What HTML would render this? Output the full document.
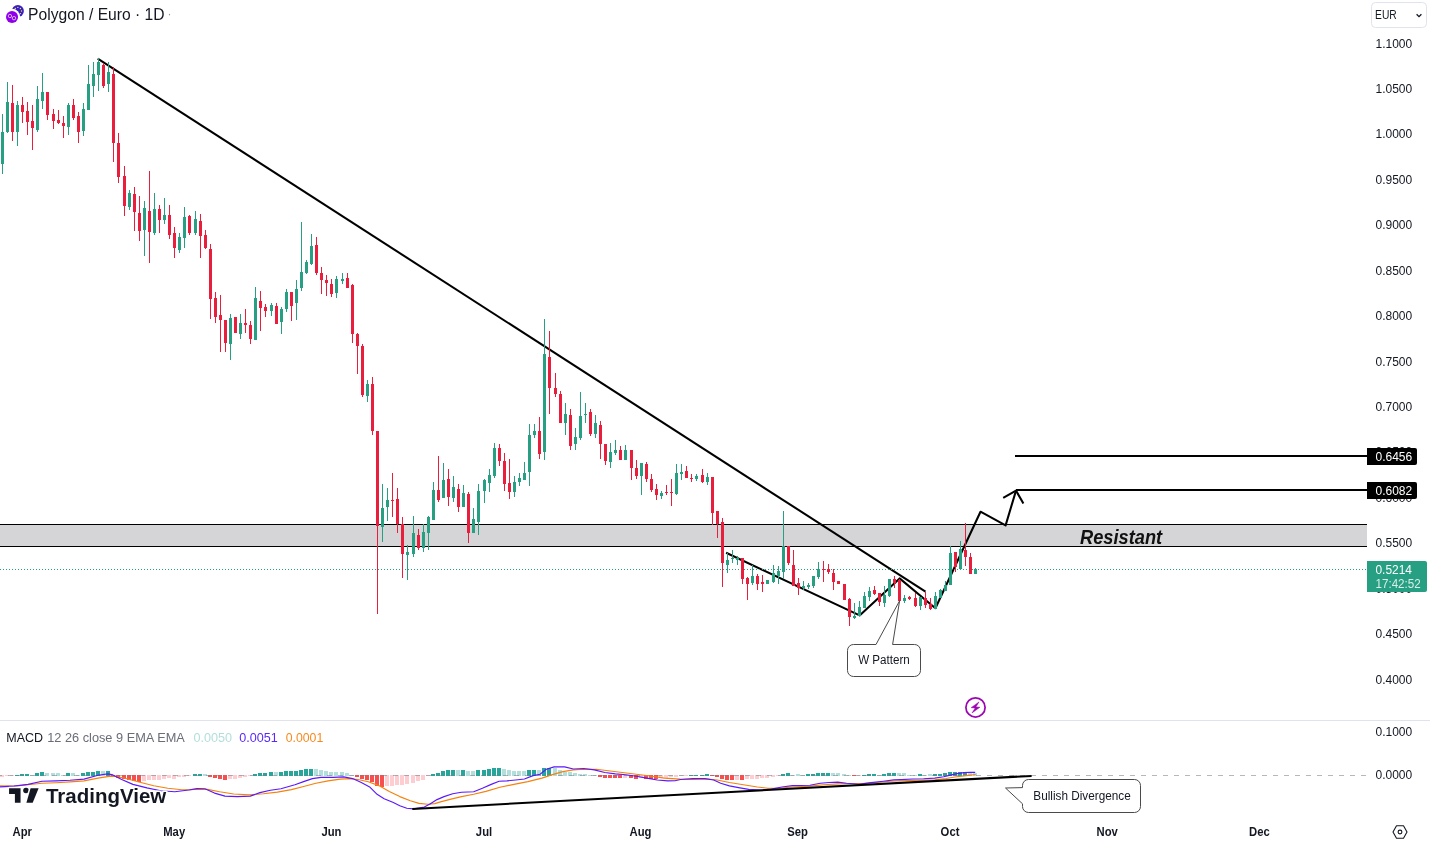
<!DOCTYPE html>
<html lang="en"><head><meta charset="utf-8"><title>Polygon / Euro chart</title>
<style>
html,body{margin:0;padding:0;background:#fff;}
body{width:1430px;height:843px;overflow:hidden;font-family:"Liberation Sans",Arial,sans-serif;}
svg{display:block;will-change:transform;}
svg text{font-family:"Liberation Sans",Arial,sans-serif;}
.ax{font-size:12px;fill:#131722;}
.tm{font-size:12px;font-weight:bold;fill:#131722;text-anchor:middle;}
</style></head><body>
<svg width="1430" height="843" viewBox="0 0 1430 843">
<rect width="1430" height="843" fill="#ffffff"/>
<g class="ax">
<text x="1375.5" y="47.6">1.1000</text>
<text x="1375.5" y="93.0">1.0500</text>
<text x="1375.5" y="138.4">1.0000</text>
<text x="1375.5" y="183.9">0.9500</text>
<text x="1375.5" y="229.3">0.9000</text>
<text x="1375.5" y="274.7">0.8500</text>
<text x="1375.5" y="320.1">0.8000</text>
<text x="1375.5" y="365.5">0.7500</text>
<text x="1375.5" y="411.0">0.7000</text>
<text x="1375.5" y="456.4">0.6500</text>
<text x="1375.5" y="501.8">0.6000</text>
<text x="1375.5" y="547.2">0.5500</text>
<text x="1375.5" y="592.6">0.5000</text>
<text x="1375.5" y="638.1">0.4500</text>
<text x="1375.5" y="683.5">0.4000</text>
</g>
<g shape-rendering="crispEdges">
<rect x="0" y="524" width="1367" height="23" fill="#d5d5d7"/>
<rect x="0" y="524" width="1367" height="1" fill="#000"/>
<rect x="0" y="546" width="1367" height="1" fill="#000"/>
</g>
<text x="1080" y="543.8" font-size="19.4" font-weight="bold" font-style="italic" fill="#111" textLength="82.2" lengthAdjust="spacingAndGlyphs">Resistant</text>
<g fill="none" stroke="#000" stroke-width="2.05" stroke-linecap="butt" stroke-linejoin="round">
<line x1="97.7" y1="58.6" x2="925.5" y2="591.7"/>
<polyline points="726.1,552.8 859.6,615.4 899.6,578.4 935.4,608.2 980.5,511.7 1005.6,525.4 1016,490.6"/>
<polyline points="1003.2,497.8 1016,490.6 1023.4,503.6"/>
</g>
<g shape-rendering="crispEdges" fill="#000">
<rect x="1015" y="455" width="352" height="2"/>
<rect x="1016" y="489" width="351" height="2"/>
</g>
<line x1="0" y1="569.5" x2="1367" y2="569.5" stroke="#279f82" stroke-width="1" stroke-dasharray="1 2" shape-rendering="crispEdges"/>
<g shape-rendering="crispEdges">
<rect x="2" y="114" width="1" height="60" fill="#279f82"/>
<rect x="1" y="132" width="3" height="32" fill="#279f82"/>
<rect x="7" y="82" width="1" height="51" fill="#279f82"/>
<rect x="6" y="102" width="3" height="30" fill="#279f82"/>
<rect x="12" y="85" width="1" height="56" fill="#e91e3c"/>
<rect x="11" y="103" width="3" height="29" fill="#e91e3c"/>
<rect x="17" y="101" width="1" height="45" fill="#279f82"/>
<rect x="16" y="105" width="3" height="27" fill="#279f82"/>
<rect x="22" y="97" width="1" height="26" fill="#e91e3c"/>
<rect x="21" y="105" width="3" height="7" fill="#e91e3c"/>
<rect x="27" y="102" width="1" height="33" fill="#e91e3c"/>
<rect x="26" y="111" width="3" height="11" fill="#e91e3c"/>
<rect x="32" y="105" width="1" height="45" fill="#e91e3c"/>
<rect x="31" y="121" width="3" height="7" fill="#e91e3c"/>
<rect x="37" y="86" width="1" height="46" fill="#279f82"/>
<rect x="36" y="99" width="3" height="31" fill="#279f82"/>
<rect x="42" y="73" width="1" height="36" fill="#279f82"/>
<rect x="41" y="92" width="3" height="9" fill="#279f82"/>
<rect x="47" y="92" width="1" height="28" fill="#e91e3c"/>
<rect x="46" y="92" width="3" height="23" fill="#e91e3c"/>
<rect x="53" y="109" width="1" height="20" fill="#e91e3c"/>
<rect x="52" y="114" width="3" height="7" fill="#e91e3c"/>
<rect x="58" y="110" width="1" height="14" fill="#e91e3c"/>
<rect x="57" y="120" width="3" height="3" fill="#e91e3c"/>
<rect x="63" y="116" width="1" height="22" fill="#e91e3c"/>
<rect x="62" y="123" width="3" height="3" fill="#e91e3c"/>
<rect x="68" y="103" width="1" height="32" fill="#279f82"/>
<rect x="67" y="105" width="3" height="22" fill="#279f82"/>
<rect x="73" y="99" width="1" height="21" fill="#e91e3c"/>
<rect x="72" y="105" width="3" height="13" fill="#e91e3c"/>
<rect x="78" y="112" width="1" height="31" fill="#e91e3c"/>
<rect x="77" y="116" width="3" height="16" fill="#e91e3c"/>
<rect x="83" y="103" width="1" height="33" fill="#279f82"/>
<rect x="82" y="109" width="3" height="22" fill="#279f82"/>
<rect x="88" y="65" width="1" height="45" fill="#279f82"/>
<rect x="87" y="84" width="3" height="26" fill="#279f82"/>
<rect x="93" y="62" width="1" height="35" fill="#279f82"/>
<rect x="92" y="74" width="3" height="12" fill="#279f82"/>
<rect x="98" y="58" width="1" height="33" fill="#279f82"/>
<rect x="97" y="62" width="3" height="13" fill="#279f82"/>
<rect x="103" y="63" width="1" height="25" fill="#e91e3c"/>
<rect x="102" y="65" width="3" height="21" fill="#e91e3c"/>
<rect x="108" y="62" width="1" height="30" fill="#279f82"/>
<rect x="107" y="72" width="3" height="12" fill="#279f82"/>
<rect x="113" y="67" width="1" height="95" fill="#e91e3c"/>
<rect x="112" y="74" width="3" height="69" fill="#e91e3c"/>
<rect x="118" y="133" width="1" height="50" fill="#e91e3c"/>
<rect x="117" y="143" width="3" height="34" fill="#e91e3c"/>
<rect x="124" y="166" width="1" height="50" fill="#e91e3c"/>
<rect x="123" y="176" width="3" height="30" fill="#e91e3c"/>
<rect x="129" y="190" width="1" height="20" fill="#279f82"/>
<rect x="128" y="193" width="3" height="14" fill="#279f82"/>
<rect x="134" y="187" width="1" height="44" fill="#e91e3c"/>
<rect x="133" y="194" width="3" height="18" fill="#e91e3c"/>
<rect x="139" y="196" width="1" height="45" fill="#e91e3c"/>
<rect x="138" y="213" width="3" height="18" fill="#e91e3c"/>
<rect x="144" y="201" width="1" height="55" fill="#279f82"/>
<rect x="143" y="208" width="3" height="22" fill="#279f82"/>
<rect x="149" y="171" width="1" height="92" fill="#e91e3c"/>
<rect x="148" y="211" width="3" height="21" fill="#e91e3c"/>
<rect x="154" y="193" width="1" height="42" fill="#279f82"/>
<rect x="153" y="209" width="3" height="24" fill="#279f82"/>
<rect x="159" y="205" width="1" height="28" fill="#e91e3c"/>
<rect x="158" y="209" width="3" height="11" fill="#e91e3c"/>
<rect x="164" y="198" width="1" height="26" fill="#279f82"/>
<rect x="163" y="215" width="3" height="5" fill="#279f82"/>
<rect x="169" y="205" width="1" height="34" fill="#e91e3c"/>
<rect x="168" y="215" width="3" height="20" fill="#e91e3c"/>
<rect x="174" y="227" width="1" height="31" fill="#e91e3c"/>
<rect x="173" y="233" width="3" height="15" fill="#e91e3c"/>
<rect x="179" y="233" width="1" height="20" fill="#279f82"/>
<rect x="178" y="237" width="3" height="13" fill="#279f82"/>
<rect x="184" y="207" width="1" height="41" fill="#279f82"/>
<rect x="183" y="217" width="3" height="21" fill="#279f82"/>
<rect x="189" y="215" width="1" height="20" fill="#e91e3c"/>
<rect x="188" y="216" width="3" height="17" fill="#e91e3c"/>
<rect x="195" y="211" width="1" height="24" fill="#279f82"/>
<rect x="194" y="219" width="3" height="14" fill="#279f82"/>
<rect x="200" y="214" width="1" height="44" fill="#e91e3c"/>
<rect x="199" y="221" width="3" height="15" fill="#e91e3c"/>
<rect x="205" y="230" width="1" height="19" fill="#e91e3c"/>
<rect x="204" y="235" width="3" height="13" fill="#e91e3c"/>
<rect x="210" y="244" width="1" height="75" fill="#e91e3c"/>
<rect x="209" y="249" width="3" height="50" fill="#e91e3c"/>
<rect x="215" y="292" width="1" height="31" fill="#e91e3c"/>
<rect x="214" y="298" width="3" height="19" fill="#e91e3c"/>
<rect x="220" y="295" width="1" height="57" fill="#e91e3c"/>
<rect x="219" y="315" width="3" height="5" fill="#e91e3c"/>
<rect x="225" y="320" width="1" height="32" fill="#e91e3c"/>
<rect x="224" y="320" width="3" height="23" fill="#e91e3c"/>
<rect x="230" y="314" width="1" height="46" fill="#279f82"/>
<rect x="229" y="318" width="3" height="26" fill="#279f82"/>
<rect x="235" y="317" width="1" height="16" fill="#e91e3c"/>
<rect x="234" y="317" width="3" height="16" fill="#e91e3c"/>
<rect x="240" y="314" width="1" height="25" fill="#279f82"/>
<rect x="239" y="323" width="3" height="11" fill="#279f82"/>
<rect x="245" y="309" width="1" height="24" fill="#e91e3c"/>
<rect x="244" y="323" width="3" height="2" fill="#e91e3c"/>
<rect x="250" y="321" width="1" height="23" fill="#e91e3c"/>
<rect x="249" y="325" width="3" height="14" fill="#e91e3c"/>
<rect x="255" y="287" width="1" height="53" fill="#279f82"/>
<rect x="254" y="298" width="3" height="42" fill="#279f82"/>
<rect x="260" y="291" width="1" height="40" fill="#e91e3c"/>
<rect x="259" y="301" width="3" height="7" fill="#e91e3c"/>
<rect x="265" y="304" width="1" height="13" fill="#e91e3c"/>
<rect x="264" y="307" width="3" height="4" fill="#e91e3c"/>
<rect x="271" y="303" width="1" height="13" fill="#279f82"/>
<rect x="270" y="305" width="3" height="6" fill="#279f82"/>
<rect x="276" y="303" width="1" height="21" fill="#e91e3c"/>
<rect x="275" y="306" width="3" height="18" fill="#e91e3c"/>
<rect x="281" y="307" width="1" height="27" fill="#279f82"/>
<rect x="280" y="309" width="3" height="13" fill="#279f82"/>
<rect x="286" y="289" width="1" height="23" fill="#279f82"/>
<rect x="285" y="292" width="3" height="17" fill="#279f82"/>
<rect x="291" y="292" width="1" height="29" fill="#e91e3c"/>
<rect x="290" y="292" width="3" height="14" fill="#e91e3c"/>
<rect x="296" y="280" width="1" height="40" fill="#279f82"/>
<rect x="295" y="289" width="3" height="14" fill="#279f82"/>
<rect x="301" y="222" width="1" height="69" fill="#279f82"/>
<rect x="300" y="272" width="3" height="16" fill="#279f82"/>
<rect x="306" y="260" width="1" height="14" fill="#279f82"/>
<rect x="305" y="262" width="3" height="11" fill="#279f82"/>
<rect x="311" y="234" width="1" height="31" fill="#279f82"/>
<rect x="310" y="246" width="3" height="18" fill="#279f82"/>
<rect x="316" y="237" width="1" height="38" fill="#e91e3c"/>
<rect x="315" y="245" width="3" height="28" fill="#e91e3c"/>
<rect x="321" y="267" width="1" height="27" fill="#e91e3c"/>
<rect x="320" y="273" width="3" height="7" fill="#e91e3c"/>
<rect x="326" y="275" width="1" height="21" fill="#e91e3c"/>
<rect x="325" y="280" width="3" height="3" fill="#e91e3c"/>
<rect x="331" y="279" width="1" height="18" fill="#e91e3c"/>
<rect x="330" y="284" width="3" height="10" fill="#e91e3c"/>
<rect x="336" y="276" width="1" height="22" fill="#279f82"/>
<rect x="335" y="279" width="3" height="14" fill="#279f82"/>
<rect x="342" y="273" width="1" height="11" fill="#279f82"/>
<rect x="341" y="279" width="3" height="2" fill="#279f82"/>
<rect x="347" y="273" width="1" height="15" fill="#e91e3c"/>
<rect x="346" y="278" width="3" height="10" fill="#e91e3c"/>
<rect x="352" y="284" width="1" height="59" fill="#e91e3c"/>
<rect x="351" y="285" width="3" height="49" fill="#e91e3c"/>
<rect x="357" y="333" width="1" height="41" fill="#e91e3c"/>
<rect x="356" y="334" width="3" height="12" fill="#e91e3c"/>
<rect x="362" y="344" width="1" height="53" fill="#e91e3c"/>
<rect x="361" y="346" width="3" height="49" fill="#e91e3c"/>
<rect x="367" y="380" width="1" height="22" fill="#279f82"/>
<rect x="366" y="384" width="3" height="12" fill="#279f82"/>
<rect x="372" y="377" width="1" height="58" fill="#e91e3c"/>
<rect x="371" y="384" width="3" height="47" fill="#e91e3c"/>
<rect x="377" y="431" width="1" height="183" fill="#e91e3c"/>
<rect x="376" y="431" width="3" height="95" fill="#e91e3c"/>
<rect x="382" y="484" width="1" height="58" fill="#279f82"/>
<rect x="381" y="508" width="3" height="19" fill="#279f82"/>
<rect x="387" y="488" width="1" height="33" fill="#279f82"/>
<rect x="386" y="500" width="3" height="7" fill="#279f82"/>
<rect x="392" y="473" width="1" height="44" fill="#e91e3c"/>
<rect x="391" y="500" width="3" height="1" fill="#e91e3c"/>
<rect x="397" y="488" width="1" height="45" fill="#e91e3c"/>
<rect x="396" y="499" width="3" height="25" fill="#e91e3c"/>
<rect x="402" y="517" width="1" height="61" fill="#e91e3c"/>
<rect x="401" y="524" width="3" height="30" fill="#e91e3c"/>
<rect x="407" y="545" width="1" height="35" fill="#279f82"/>
<rect x="406" y="552" width="3" height="3" fill="#279f82"/>
<rect x="413" y="516" width="1" height="41" fill="#279f82"/>
<rect x="412" y="533" width="3" height="21" fill="#279f82"/>
<rect x="418" y="529" width="1" height="21" fill="#e91e3c"/>
<rect x="417" y="535" width="3" height="13" fill="#e91e3c"/>
<rect x="423" y="524" width="1" height="28" fill="#279f82"/>
<rect x="422" y="532" width="3" height="16" fill="#279f82"/>
<rect x="428" y="516" width="1" height="34" fill="#279f82"/>
<rect x="427" y="517" width="3" height="16" fill="#279f82"/>
<rect x="433" y="482" width="1" height="38" fill="#279f82"/>
<rect x="432" y="490" width="3" height="30" fill="#279f82"/>
<rect x="438" y="456" width="1" height="46" fill="#e91e3c"/>
<rect x="437" y="490" width="3" height="10" fill="#e91e3c"/>
<rect x="443" y="463" width="1" height="35" fill="#279f82"/>
<rect x="442" y="480" width="3" height="18" fill="#279f82"/>
<rect x="448" y="469" width="1" height="37" fill="#e91e3c"/>
<rect x="447" y="479" width="3" height="18" fill="#e91e3c"/>
<rect x="453" y="476" width="1" height="26" fill="#279f82"/>
<rect x="452" y="487" width="3" height="11" fill="#279f82"/>
<rect x="458" y="484" width="1" height="28" fill="#e91e3c"/>
<rect x="457" y="489" width="3" height="18" fill="#e91e3c"/>
<rect x="463" y="485" width="1" height="22" fill="#279f82"/>
<rect x="462" y="493" width="3" height="14" fill="#279f82"/>
<rect x="468" y="492" width="1" height="51" fill="#e91e3c"/>
<rect x="467" y="494" width="3" height="39" fill="#e91e3c"/>
<rect x="473" y="508" width="1" height="25" fill="#279f82"/>
<rect x="472" y="519" width="3" height="14" fill="#279f82"/>
<rect x="478" y="484" width="1" height="51" fill="#279f82"/>
<rect x="477" y="491" width="3" height="31" fill="#279f82"/>
<rect x="484" y="479" width="1" height="24" fill="#279f82"/>
<rect x="483" y="480" width="3" height="11" fill="#279f82"/>
<rect x="489" y="469" width="1" height="23" fill="#279f82"/>
<rect x="488" y="475" width="3" height="8" fill="#279f82"/>
<rect x="494" y="443" width="1" height="35" fill="#279f82"/>
<rect x="493" y="448" width="3" height="28" fill="#279f82"/>
<rect x="499" y="444" width="1" height="22" fill="#e91e3c"/>
<rect x="498" y="448" width="3" height="13" fill="#e91e3c"/>
<rect x="504" y="453" width="1" height="38" fill="#e91e3c"/>
<rect x="503" y="461" width="3" height="23" fill="#e91e3c"/>
<rect x="509" y="459" width="1" height="40" fill="#e91e3c"/>
<rect x="508" y="483" width="3" height="9" fill="#e91e3c"/>
<rect x="514" y="476" width="1" height="21" fill="#279f82"/>
<rect x="513" y="482" width="3" height="10" fill="#279f82"/>
<rect x="519" y="473" width="1" height="13" fill="#279f82"/>
<rect x="518" y="478" width="3" height="4" fill="#279f82"/>
<rect x="524" y="462" width="1" height="18" fill="#279f82"/>
<rect x="523" y="473" width="3" height="7" fill="#279f82"/>
<rect x="529" y="424" width="1" height="62" fill="#279f82"/>
<rect x="528" y="435" width="3" height="37" fill="#279f82"/>
<rect x="534" y="424" width="1" height="14" fill="#279f82"/>
<rect x="533" y="431" width="3" height="4" fill="#279f82"/>
<rect x="539" y="417" width="1" height="42" fill="#e91e3c"/>
<rect x="538" y="431" width="3" height="23" fill="#e91e3c"/>
<rect x="544" y="319" width="1" height="141" fill="#279f82"/>
<rect x="543" y="354" width="3" height="98" fill="#279f82"/>
<rect x="549" y="331" width="1" height="83" fill="#e91e3c"/>
<rect x="548" y="357" width="3" height="31" fill="#e91e3c"/>
<rect x="555" y="373" width="1" height="24" fill="#e91e3c"/>
<rect x="554" y="388" width="3" height="6" fill="#e91e3c"/>
<rect x="560" y="391" width="1" height="32" fill="#e91e3c"/>
<rect x="559" y="394" width="3" height="29" fill="#e91e3c"/>
<rect x="565" y="403" width="1" height="32" fill="#279f82"/>
<rect x="564" y="414" width="3" height="9" fill="#279f82"/>
<rect x="570" y="409" width="1" height="41" fill="#e91e3c"/>
<rect x="569" y="415" width="3" height="31" fill="#e91e3c"/>
<rect x="575" y="428" width="1" height="22" fill="#279f82"/>
<rect x="574" y="437" width="3" height="7" fill="#279f82"/>
<rect x="580" y="392" width="1" height="48" fill="#279f82"/>
<rect x="579" y="416" width="3" height="22" fill="#279f82"/>
<rect x="585" y="403" width="1" height="20" fill="#279f82"/>
<rect x="584" y="414" width="3" height="1" fill="#279f82"/>
<rect x="590" y="409" width="1" height="27" fill="#e91e3c"/>
<rect x="589" y="412" width="3" height="22" fill="#e91e3c"/>
<rect x="595" y="415" width="1" height="23" fill="#279f82"/>
<rect x="594" y="423" width="3" height="11" fill="#279f82"/>
<rect x="600" y="421" width="1" height="38" fill="#e91e3c"/>
<rect x="599" y="425" width="3" height="19" fill="#e91e3c"/>
<rect x="605" y="444" width="1" height="21" fill="#e91e3c"/>
<rect x="604" y="444" width="3" height="17" fill="#e91e3c"/>
<rect x="610" y="443" width="1" height="25" fill="#279f82"/>
<rect x="609" y="452" width="3" height="10" fill="#279f82"/>
<rect x="615" y="440" width="1" height="15" fill="#279f82"/>
<rect x="614" y="450" width="3" height="3" fill="#279f82"/>
<rect x="620" y="446" width="1" height="14" fill="#e91e3c"/>
<rect x="619" y="450" width="3" height="10" fill="#e91e3c"/>
<rect x="625" y="445" width="1" height="15" fill="#279f82"/>
<rect x="624" y="450" width="3" height="10" fill="#279f82"/>
<rect x="631" y="450" width="1" height="30" fill="#e91e3c"/>
<rect x="630" y="450" width="3" height="18" fill="#e91e3c"/>
<rect x="636" y="460" width="1" height="19" fill="#e91e3c"/>
<rect x="635" y="468" width="3" height="8" fill="#e91e3c"/>
<rect x="641" y="463" width="1" height="32" fill="#279f82"/>
<rect x="640" y="463" width="3" height="13" fill="#279f82"/>
<rect x="646" y="462" width="1" height="20" fill="#e91e3c"/>
<rect x="645" y="464" width="3" height="15" fill="#e91e3c"/>
<rect x="651" y="474" width="1" height="18" fill="#e91e3c"/>
<rect x="650" y="479" width="3" height="11" fill="#e91e3c"/>
<rect x="656" y="484" width="1" height="16" fill="#e91e3c"/>
<rect x="655" y="489" width="3" height="6" fill="#e91e3c"/>
<rect x="661" y="491" width="1" height="8" fill="#279f82"/>
<rect x="660" y="493" width="3" height="3" fill="#279f82"/>
<rect x="666" y="485" width="1" height="10" fill="#e91e3c"/>
<rect x="665" y="492" width="3" height="1" fill="#e91e3c"/>
<rect x="671" y="479" width="1" height="27" fill="#e91e3c"/>
<rect x="670" y="492" width="3" height="1" fill="#e91e3c"/>
<rect x="676" y="464" width="1" height="31" fill="#279f82"/>
<rect x="675" y="473" width="3" height="21" fill="#279f82"/>
<rect x="681" y="464" width="1" height="16" fill="#279f82"/>
<rect x="680" y="472" width="3" height="2" fill="#279f82"/>
<rect x="686" y="466" width="1" height="12" fill="#e91e3c"/>
<rect x="685" y="471" width="3" height="7" fill="#e91e3c"/>
<rect x="691" y="474" width="1" height="8" fill="#e91e3c"/>
<rect x="690" y="478" width="3" height="1" fill="#e91e3c"/>
<rect x="696" y="474" width="1" height="7" fill="#279f82"/>
<rect x="695" y="476" width="3" height="3" fill="#279f82"/>
<rect x="702" y="469" width="1" height="14" fill="#e91e3c"/>
<rect x="701" y="475" width="3" height="7" fill="#e91e3c"/>
<rect x="707" y="473" width="1" height="12" fill="#279f82"/>
<rect x="706" y="477" width="3" height="5" fill="#279f82"/>
<rect x="712" y="477" width="1" height="48" fill="#e91e3c"/>
<rect x="711" y="477" width="3" height="36" fill="#e91e3c"/>
<rect x="717" y="511" width="1" height="27" fill="#e91e3c"/>
<rect x="716" y="511" width="3" height="13" fill="#e91e3c"/>
<rect x="722" y="518" width="1" height="69" fill="#e91e3c"/>
<rect x="721" y="522" width="3" height="41" fill="#e91e3c"/>
<rect x="727" y="553" width="1" height="20" fill="#279f82"/>
<rect x="726" y="560" width="3" height="5" fill="#279f82"/>
<rect x="732" y="550" width="1" height="13" fill="#279f82"/>
<rect x="731" y="558" width="3" height="1" fill="#279f82"/>
<rect x="737" y="556" width="1" height="9" fill="#279f82"/>
<rect x="736" y="558" width="3" height="2" fill="#279f82"/>
<rect x="742" y="558" width="1" height="26" fill="#e91e3c"/>
<rect x="741" y="558" width="3" height="21" fill="#e91e3c"/>
<rect x="747" y="577" width="1" height="23" fill="#e91e3c"/>
<rect x="746" y="578" width="3" height="6" fill="#e91e3c"/>
<rect x="752" y="565" width="1" height="20" fill="#279f82"/>
<rect x="751" y="576" width="3" height="7" fill="#279f82"/>
<rect x="757" y="574" width="1" height="16" fill="#e91e3c"/>
<rect x="756" y="576" width="3" height="8" fill="#e91e3c"/>
<rect x="762" y="575" width="1" height="17" fill="#e91e3c"/>
<rect x="761" y="582" width="3" height="2" fill="#e91e3c"/>
<rect x="767" y="580" width="1" height="4" fill="#279f82"/>
<rect x="766" y="580" width="3" height="4" fill="#279f82"/>
<rect x="773" y="565" width="1" height="18" fill="#279f82"/>
<rect x="772" y="573" width="3" height="9" fill="#279f82"/>
<rect x="778" y="566" width="1" height="18" fill="#279f82"/>
<rect x="777" y="571" width="3" height="5" fill="#279f82"/>
<rect x="783" y="511" width="1" height="68" fill="#279f82"/>
<rect x="782" y="546" width="3" height="26" fill="#279f82"/>
<rect x="788" y="546" width="1" height="19" fill="#e91e3c"/>
<rect x="787" y="546" width="3" height="17" fill="#e91e3c"/>
<rect x="793" y="550" width="1" height="36" fill="#e91e3c"/>
<rect x="792" y="565" width="3" height="21" fill="#e91e3c"/>
<rect x="798" y="578" width="1" height="17" fill="#e91e3c"/>
<rect x="797" y="583" width="3" height="5" fill="#e91e3c"/>
<rect x="803" y="581" width="1" height="9" fill="#279f82"/>
<rect x="802" y="586" width="3" height="2" fill="#279f82"/>
<rect x="808" y="583" width="1" height="6" fill="#279f82"/>
<rect x="807" y="585" width="3" height="2" fill="#279f82"/>
<rect x="813" y="576" width="1" height="12" fill="#279f82"/>
<rect x="812" y="576" width="3" height="10" fill="#279f82"/>
<rect x="818" y="562" width="1" height="17" fill="#279f82"/>
<rect x="817" y="569" width="3" height="8" fill="#279f82"/>
<rect x="823" y="561" width="1" height="21" fill="#e91e3c"/>
<rect x="822" y="569" width="3" height="1" fill="#e91e3c"/>
<rect x="828" y="564" width="1" height="10" fill="#e91e3c"/>
<rect x="827" y="569" width="3" height="3" fill="#e91e3c"/>
<rect x="833" y="569" width="1" height="21" fill="#e91e3c"/>
<rect x="832" y="573" width="3" height="9" fill="#e91e3c"/>
<rect x="838" y="581" width="1" height="3" fill="#e91e3c"/>
<rect x="837" y="581" width="3" height="3" fill="#e91e3c"/>
<rect x="844" y="584" width="1" height="16" fill="#e91e3c"/>
<rect x="843" y="584" width="3" height="16" fill="#e91e3c"/>
<rect x="849" y="598" width="1" height="28" fill="#e91e3c"/>
<rect x="848" y="599" width="3" height="18" fill="#e91e3c"/>
<rect x="854" y="603" width="1" height="16" fill="#279f82"/>
<rect x="853" y="616" width="3" height="2" fill="#279f82"/>
<rect x="859" y="601" width="1" height="15" fill="#279f82"/>
<rect x="858" y="607" width="3" height="9" fill="#279f82"/>
<rect x="864" y="592" width="1" height="16" fill="#279f82"/>
<rect x="863" y="596" width="3" height="12" fill="#279f82"/>
<rect x="869" y="587" width="1" height="14" fill="#279f82"/>
<rect x="868" y="591" width="3" height="6" fill="#279f82"/>
<rect x="874" y="586" width="1" height="9" fill="#e91e3c"/>
<rect x="873" y="590" width="3" height="4" fill="#e91e3c"/>
<rect x="879" y="593" width="1" height="13" fill="#e91e3c"/>
<rect x="878" y="593" width="3" height="9" fill="#e91e3c"/>
<rect x="884" y="586" width="1" height="21" fill="#279f82"/>
<rect x="883" y="595" width="3" height="8" fill="#279f82"/>
<rect x="889" y="579" width="1" height="18" fill="#279f82"/>
<rect x="888" y="579" width="3" height="17" fill="#279f82"/>
<rect x="894" y="576" width="1" height="12" fill="#e91e3c"/>
<rect x="893" y="579" width="3" height="4" fill="#e91e3c"/>
<rect x="899" y="579" width="1" height="22" fill="#e91e3c"/>
<rect x="898" y="580" width="3" height="21" fill="#e91e3c"/>
<rect x="904" y="595" width="1" height="8" fill="#279f82"/>
<rect x="903" y="598" width="3" height="3" fill="#279f82"/>
<rect x="909" y="596" width="1" height="4" fill="#e91e3c"/>
<rect x="908" y="597" width="3" height="2" fill="#e91e3c"/>
<rect x="915" y="593" width="1" height="14" fill="#e91e3c"/>
<rect x="914" y="598" width="3" height="8" fill="#e91e3c"/>
<rect x="920" y="597" width="1" height="13" fill="#279f82"/>
<rect x="919" y="597" width="3" height="9" fill="#279f82"/>
<rect x="925" y="592" width="1" height="16" fill="#e91e3c"/>
<rect x="924" y="598" width="3" height="7" fill="#e91e3c"/>
<rect x="930" y="598" width="1" height="12" fill="#e91e3c"/>
<rect x="929" y="604" width="3" height="5" fill="#e91e3c"/>
<rect x="935" y="592" width="1" height="17" fill="#279f82"/>
<rect x="934" y="596" width="3" height="13" fill="#279f82"/>
<rect x="940" y="589" width="1" height="9" fill="#279f82"/>
<rect x="939" y="590" width="3" height="8" fill="#279f82"/>
<rect x="945" y="581" width="1" height="10" fill="#279f82"/>
<rect x="944" y="585" width="3" height="6" fill="#279f82"/>
<rect x="950" y="546" width="1" height="39" fill="#279f82"/>
<rect x="949" y="553" width="3" height="32" fill="#279f82"/>
<rect x="955" y="552" width="1" height="20" fill="#e91e3c"/>
<rect x="954" y="552" width="3" height="15" fill="#e91e3c"/>
<rect x="960" y="541" width="1" height="29" fill="#279f82"/>
<rect x="959" y="549" width="3" height="20" fill="#279f82"/>
<rect x="965" y="523" width="1" height="43" fill="#e91e3c"/>
<rect x="964" y="550" width="3" height="7" fill="#e91e3c"/>
<rect x="970" y="553" width="1" height="21" fill="#e91e3c"/>
<rect x="969" y="557" width="3" height="17" fill="#e91e3c"/>
<rect x="975" y="568" width="1" height="6" fill="#279f82"/>
<rect x="974" y="569" width="3" height="5" fill="#279f82"/>
</g>
<g>
<path d="M1367 448h48a2 2 0 0 1 2 2v13a2 2 0 0 1-2 2h-48z" fill="#000"/>
<path d="M1367 482h48a2 2 0 0 1 2 2v13a2 2 0 0 1-2 2h-48z" fill="#000"/>
<text x="1375.5" y="460.8" font-size="12" fill="#fff">0.6456</text>
<text x="1375.5" y="494.8" font-size="12" fill="#fff">0.6082</text>
<path d="M1367 561h58a2 2 0 0 1 2 2v27a2 2 0 0 1-2 2h-58z" fill="#279f82"/>
<text x="1375.5" y="573.7" font-size="12" fill="#fff" textLength="36.4" lengthAdjust="spacingAndGlyphs">0.5214</text>
<text x="1375.5" y="588" font-size="12" fill="#fff" fill-opacity="0.82" textLength="45.2" lengthAdjust="spacingAndGlyphs">17:42:52</text>
</g>
<g>
<path d="M853.5 644.5H876L899.6 600.8L892.6 644.5H914.5a6 6 0 0 1 6 6V670.5a6 6 0 0 1-6 6H853.5a6 6 0 0 1-6-6V650.5a6 6 0 0 1 6-6z" fill="#fff" stroke="#4a4a4a" stroke-width="1"/>
<text x="884" y="664" font-size="12" fill="#131722" text-anchor="middle" textLength="51.7" lengthAdjust="spacingAndGlyphs">W Pattern</text>
</g>
<g>
<circle cx="975.5" cy="707.45" r="9.6" fill="#fff" stroke="#9c06b2" stroke-width="1.75"/>
<path d="M979 701.9L971.1 707.65L975.2 707.95L972 712.95L979.95 707.2L975.9 706.95Z" fill="#9c06b2" stroke="#9c06b2" stroke-width="0.5" stroke-linejoin="round"/>
</g>
<rect x="0" y="720" width="1430" height="1" fill="#e0e3eb" shape-rendering="crispEdges"/>
<g shape-rendering="crispEdges">
<rect x="0" y="775" width="4" height="2" fill="#fdcdd2"/>
<rect x="5" y="775" width="4" height="1" fill="#fdcdd2"/>
<rect x="10" y="775" width="4" height="1" fill="#fdcdd2"/>
<rect x="15" y="775" width="4" height="1" fill="#26a69a"/>
<rect x="20" y="774" width="4" height="2" fill="#26a69a"/>
<rect x="25" y="774" width="4" height="2" fill="#26a69a"/>
<rect x="30" y="775" width="4" height="1" fill="#b2dfdb"/>
<rect x="35" y="773" width="4" height="3" fill="#26a69a"/>
<rect x="40" y="772" width="4" height="4" fill="#26a69a"/>
<rect x="45" y="773" width="4" height="3" fill="#b2dfdb"/>
<rect x="51" y="773" width="4" height="3" fill="#b2dfdb"/>
<rect x="56" y="773" width="4" height="3" fill="#b2dfdb"/>
<rect x="61" y="775" width="4" height="1" fill="#b2dfdb"/>
<rect x="66" y="773" width="4" height="3" fill="#26a69a"/>
<rect x="71" y="773" width="4" height="3" fill="#b2dfdb"/>
<rect x="76" y="775" width="4" height="1" fill="#b2dfdb"/>
<rect x="81" y="773" width="4" height="3" fill="#26a69a"/>
<rect x="86" y="772" width="4" height="4" fill="#26a69a"/>
<rect x="91" y="772" width="4" height="4" fill="#26a69a"/>
<rect x="96" y="771" width="4" height="5" fill="#26a69a"/>
<rect x="101" y="771" width="4" height="5" fill="#b2dfdb"/>
<rect x="106" y="771" width="4" height="5" fill="#26a69a"/>
<rect x="111" y="775" width="4" height="1" fill="#f5504f"/>
<rect x="116" y="775" width="4" height="3" fill="#f5504f"/>
<rect x="122" y="775" width="4" height="4" fill="#f5504f"/>
<rect x="127" y="775" width="4" height="5" fill="#f5504f"/>
<rect x="132" y="775" width="4" height="6" fill="#f5504f"/>
<rect x="137" y="775" width="4" height="7" fill="#f5504f"/>
<rect x="142" y="775" width="4" height="6" fill="#fdcdd2"/>
<rect x="147" y="775" width="4" height="5" fill="#fdcdd2"/>
<rect x="152" y="775" width="4" height="5" fill="#fdcdd2"/>
<rect x="157" y="775" width="4" height="5" fill="#fdcdd2"/>
<rect x="162" y="775" width="4" height="4" fill="#fdcdd2"/>
<rect x="167" y="775" width="4" height="3" fill="#fdcdd2"/>
<rect x="172" y="775" width="4" height="4" fill="#fdcdd2"/>
<rect x="177" y="775" width="4" height="2" fill="#fdcdd2"/>
<rect x="182" y="775" width="4" height="2" fill="#fdcdd2"/>
<rect x="187" y="775" width="4" height="1" fill="#fdcdd2"/>
<rect x="193" y="774" width="4" height="2" fill="#26a69a"/>
<rect x="198" y="774" width="4" height="2" fill="#26a69a"/>
<rect x="203" y="774" width="4" height="2" fill="#b2dfdb"/>
<rect x="208" y="775" width="4" height="2" fill="#f5504f"/>
<rect x="213" y="775" width="4" height="3" fill="#f5504f"/>
<rect x="218" y="775" width="4" height="4" fill="#f5504f"/>
<rect x="223" y="775" width="4" height="5" fill="#f5504f"/>
<rect x="228" y="775" width="4" height="4" fill="#fdcdd2"/>
<rect x="233" y="775" width="4" height="4" fill="#fdcdd2"/>
<rect x="238" y="775" width="4" height="3" fill="#fdcdd2"/>
<rect x="243" y="775" width="4" height="2" fill="#fdcdd2"/>
<rect x="248" y="775" width="4" height="1" fill="#fdcdd2"/>
<rect x="253" y="774" width="4" height="2" fill="#26a69a"/>
<rect x="258" y="773" width="4" height="3" fill="#26a69a"/>
<rect x="263" y="773" width="4" height="3" fill="#26a69a"/>
<rect x="269" y="772" width="4" height="4" fill="#26a69a"/>
<rect x="274" y="772" width="4" height="4" fill="#b2dfdb"/>
<rect x="279" y="772" width="4" height="4" fill="#26a69a"/>
<rect x="284" y="771" width="4" height="5" fill="#26a69a"/>
<rect x="289" y="771" width="4" height="5" fill="#26a69a"/>
<rect x="294" y="771" width="4" height="5" fill="#26a69a"/>
<rect x="299" y="770" width="4" height="6" fill="#26a69a"/>
<rect x="304" y="769" width="4" height="7" fill="#26a69a"/>
<rect x="309" y="769" width="4" height="7" fill="#26a69a"/>
<rect x="314" y="769" width="4" height="7" fill="#b2dfdb"/>
<rect x="319" y="770" width="4" height="6" fill="#b2dfdb"/>
<rect x="324" y="771" width="4" height="5" fill="#b2dfdb"/>
<rect x="329" y="772" width="4" height="4" fill="#b2dfdb"/>
<rect x="334" y="772" width="4" height="4" fill="#b2dfdb"/>
<rect x="340" y="772" width="4" height="4" fill="#b2dfdb"/>
<rect x="345" y="773" width="4" height="3" fill="#b2dfdb"/>
<rect x="350" y="775" width="4" height="1" fill="#b2dfdb"/>
<rect x="355" y="775" width="4" height="2" fill="#f5504f"/>
<rect x="360" y="775" width="4" height="4" fill="#f5504f"/>
<rect x="365" y="775" width="4" height="5" fill="#f5504f"/>
<rect x="370" y="775" width="4" height="7" fill="#f5504f"/>
<rect x="375" y="775" width="4" height="11" fill="#f5504f"/>
<rect x="380" y="775" width="4" height="12" fill="#f5504f"/>
<rect x="385" y="775" width="4" height="11" fill="#fdcdd2"/>
<rect x="390" y="775" width="4" height="11" fill="#fdcdd2"/>
<rect x="395" y="775" width="4" height="10" fill="#fdcdd2"/>
<rect x="400" y="775" width="4" height="10" fill="#fdcdd2"/>
<rect x="405" y="775" width="4" height="9" fill="#fdcdd2"/>
<rect x="411" y="775" width="4" height="8" fill="#fdcdd2"/>
<rect x="416" y="775" width="4" height="6" fill="#fdcdd2"/>
<rect x="421" y="775" width="4" height="5" fill="#fdcdd2"/>
<rect x="426" y="775" width="4" height="1" fill="#fdcdd2"/>
<rect x="431" y="774" width="4" height="2" fill="#26a69a"/>
<rect x="436" y="773" width="4" height="3" fill="#26a69a"/>
<rect x="441" y="771" width="4" height="5" fill="#26a69a"/>
<rect x="446" y="770" width="4" height="6" fill="#26a69a"/>
<rect x="451" y="770" width="4" height="6" fill="#26a69a"/>
<rect x="456" y="770" width="4" height="6" fill="#b2dfdb"/>
<rect x="461" y="770" width="4" height="6" fill="#26a69a"/>
<rect x="466" y="771" width="4" height="5" fill="#b2dfdb"/>
<rect x="471" y="771" width="4" height="5" fill="#b2dfdb"/>
<rect x="476" y="770" width="4" height="6" fill="#26a69a"/>
<rect x="482" y="770" width="4" height="6" fill="#26a69a"/>
<rect x="487" y="769" width="4" height="7" fill="#26a69a"/>
<rect x="492" y="768" width="4" height="8" fill="#26a69a"/>
<rect x="497" y="768" width="4" height="8" fill="#26a69a"/>
<rect x="502" y="769" width="4" height="7" fill="#b2dfdb"/>
<rect x="507" y="770" width="4" height="6" fill="#b2dfdb"/>
<rect x="512" y="771" width="4" height="5" fill="#b2dfdb"/>
<rect x="517" y="771" width="4" height="5" fill="#b2dfdb"/>
<rect x="522" y="771" width="4" height="5" fill="#b2dfdb"/>
<rect x="527" y="770" width="4" height="6" fill="#26a69a"/>
<rect x="532" y="770" width="4" height="6" fill="#26a69a"/>
<rect x="537" y="770" width="4" height="6" fill="#b2dfdb"/>
<rect x="542" y="768" width="4" height="8" fill="#26a69a"/>
<rect x="547" y="768" width="4" height="8" fill="#26a69a"/>
<rect x="553" y="768" width="4" height="8" fill="#b2dfdb"/>
<rect x="558" y="770" width="4" height="6" fill="#b2dfdb"/>
<rect x="563" y="772" width="4" height="4" fill="#b2dfdb"/>
<rect x="568" y="772" width="4" height="4" fill="#b2dfdb"/>
<rect x="573" y="773" width="4" height="3" fill="#b2dfdb"/>
<rect x="578" y="774" width="4" height="2" fill="#b2dfdb"/>
<rect x="583" y="774" width="4" height="2" fill="#b2dfdb"/>
<rect x="588" y="775" width="4" height="1" fill="#b2dfdb"/>
<rect x="593" y="775" width="4" height="1" fill="#b2dfdb"/>
<rect x="598" y="775" width="4" height="2" fill="#f5504f"/>
<rect x="603" y="775" width="4" height="3" fill="#f5504f"/>
<rect x="608" y="775" width="4" height="3" fill="#f5504f"/>
<rect x="613" y="775" width="4" height="3" fill="#f5504f"/>
<rect x="618" y="775" width="4" height="3" fill="#f5504f"/>
<rect x="623" y="775" width="4" height="3" fill="#fdcdd2"/>
<rect x="629" y="775" width="4" height="3" fill="#f5504f"/>
<rect x="634" y="775" width="4" height="4" fill="#f5504f"/>
<rect x="639" y="775" width="4" height="3" fill="#fdcdd2"/>
<rect x="644" y="775" width="4" height="4" fill="#f5504f"/>
<rect x="649" y="775" width="4" height="4" fill="#f5504f"/>
<rect x="654" y="775" width="4" height="4" fill="#f5504f"/>
<rect x="659" y="775" width="4" height="3" fill="#fdcdd2"/>
<rect x="664" y="775" width="4" height="3" fill="#fdcdd2"/>
<rect x="669" y="775" width="4" height="2" fill="#fdcdd2"/>
<rect x="674" y="775" width="4" height="2" fill="#fdcdd2"/>
<rect x="679" y="775" width="4" height="1" fill="#fdcdd2"/>
<rect x="684" y="775" width="4" height="1" fill="#fdcdd2"/>
<rect x="689" y="775" width="4" height="1" fill="#26a69a"/>
<rect x="694" y="775" width="4" height="1" fill="#26a69a"/>
<rect x="700" y="775" width="4" height="1" fill="#26a69a"/>
<rect x="705" y="774" width="4" height="2" fill="#26a69a"/>
<rect x="710" y="775" width="4" height="1" fill="#f5504f"/>
<rect x="715" y="775" width="4" height="2" fill="#f5504f"/>
<rect x="720" y="775" width="4" height="4" fill="#f5504f"/>
<rect x="725" y="775" width="4" height="5" fill="#f5504f"/>
<rect x="730" y="775" width="4" height="5" fill="#f5504f"/>
<rect x="735" y="775" width="4" height="5" fill="#fdcdd2"/>
<rect x="740" y="775" width="4" height="5" fill="#f5504f"/>
<rect x="745" y="775" width="4" height="4" fill="#fdcdd2"/>
<rect x="750" y="775" width="4" height="4" fill="#fdcdd2"/>
<rect x="755" y="775" width="4" height="4" fill="#fdcdd2"/>
<rect x="760" y="775" width="4" height="3" fill="#fdcdd2"/>
<rect x="765" y="775" width="4" height="3" fill="#fdcdd2"/>
<rect x="771" y="775" width="4" height="2" fill="#fdcdd2"/>
<rect x="776" y="775" width="4" height="1" fill="#fdcdd2"/>
<rect x="781" y="774" width="4" height="2" fill="#26a69a"/>
<rect x="786" y="773" width="4" height="3" fill="#26a69a"/>
<rect x="791" y="775" width="4" height="1" fill="#b2dfdb"/>
<rect x="796" y="774" width="4" height="2" fill="#b2dfdb"/>
<rect x="801" y="775" width="4" height="1" fill="#b2dfdb"/>
<rect x="806" y="774" width="4" height="2" fill="#26a69a"/>
<rect x="811" y="774" width="4" height="2" fill="#26a69a"/>
<rect x="816" y="773" width="4" height="3" fill="#26a69a"/>
<rect x="821" y="773" width="4" height="3" fill="#26a69a"/>
<rect x="826" y="773" width="4" height="3" fill="#26a69a"/>
<rect x="831" y="773" width="4" height="3" fill="#b2dfdb"/>
<rect x="836" y="773" width="4" height="3" fill="#b2dfdb"/>
<rect x="842" y="774" width="4" height="2" fill="#b2dfdb"/>
<rect x="847" y="775" width="4" height="1" fill="#b2dfdb"/>
<rect x="852" y="775" width="4" height="1" fill="#f5504f"/>
<rect x="857" y="775" width="4" height="1" fill="#fdcdd2"/>
<rect x="862" y="775" width="4" height="1" fill="#26a69a"/>
<rect x="867" y="774" width="4" height="2" fill="#26a69a"/>
<rect x="872" y="774" width="4" height="2" fill="#26a69a"/>
<rect x="877" y="775" width="4" height="1" fill="#b2dfdb"/>
<rect x="882" y="774" width="4" height="2" fill="#26a69a"/>
<rect x="887" y="773" width="4" height="3" fill="#26a69a"/>
<rect x="892" y="773" width="4" height="3" fill="#26a69a"/>
<rect x="897" y="773" width="4" height="3" fill="#b2dfdb"/>
<rect x="902" y="773" width="4" height="3" fill="#b2dfdb"/>
<rect x="907" y="775" width="4" height="1" fill="#b2dfdb"/>
<rect x="913" y="775" width="4" height="1" fill="#b2dfdb"/>
<rect x="918" y="774" width="4" height="2" fill="#26a69a"/>
<rect x="923" y="775" width="4" height="1" fill="#b2dfdb"/>
<rect x="928" y="774" width="4" height="2" fill="#b2dfdb"/>
<rect x="933" y="774" width="4" height="2" fill="#26a69a"/>
<rect x="938" y="774" width="4" height="2" fill="#26a69a"/>
<rect x="943" y="773" width="4" height="3" fill="#26a69a"/>
<rect x="948" y="772" width="4" height="4" fill="#26a69a"/>
<rect x="953" y="772" width="4" height="4" fill="#26a69a"/>
<rect x="958" y="772" width="4" height="4" fill="#26a69a"/>
<rect x="963" y="772" width="4" height="4" fill="#26a69a"/>
<rect x="968" y="773" width="4" height="3" fill="#b2dfdb"/>
<rect x="973" y="773" width="4" height="3" fill="#b2dfdb"/>
</g>
<line x1="-3" y1="775.5" x2="1367" y2="775.5" stroke="#787b86" stroke-opacity="0.55" stroke-width="1" stroke-dasharray="5 6" shape-rendering="crispEdges"/>
<polyline points="0.0,785.8 14.0,786.1 28.0,784.8 42.0,783.3 56.0,782.7 70.0,781.9 84.0,780.9 98.0,778.1 109.0,776.4 116.0,776.4 125.9,778.5 139.9,782.3 153.8,785.8 167.8,788.3 181.8,789.7 190.0,789.6 198.7,789.1 207.5,789.4 219.7,791.7 233.7,794.0 249.4,794.9 263.4,793.8 277.4,792.1 291.4,789.6 303.6,786.5 315.9,783.3 328.1,780.9 340.3,779.1 349.1,778.6 357.8,779.5 368.3,781.8 378.8,785.6 389.3,791.4 399.8,796.6 410.3,800.8 419.0,803.4 427.8,804.3 434.8,803.6 440.5,801.9 451.0,799.1 461.5,796.6 473.7,794.3 485.9,791.4 499.9,787.3 513.9,784.4 527.9,781.6 541.9,778.1 552.4,774.6 562.9,771.6 573.4,769.9 583.8,769.3 596.1,769.3 608.3,770.7 622.3,772.5 636.3,774.2 650.3,776.0 664.3,778.1 672.0,778.6 680.5,779.1 692.7,779.5 706.7,779.0 717.2,780.0 729.4,782.5 743.4,784.7 757.4,787.0 767.9,788.2 778.4,788.2 792.4,787.0 809.9,786.1 823.8,784.7 837.8,783.9 851.8,783.5 862.3,783.5 876.3,782.5 890.3,781.3 901.2,780.7 912.4,780.4 923.6,780.1 934.7,779.9 945.9,778.5 954.9,777.0 963.8,775.9 970.5,775.1 975.6,774.5" fill="none" stroke="#f5820d" stroke-width="1.15" stroke-linejoin="round"/>
<polyline points="0.0,786.9 14.0,786.1 28.0,784.4 42.0,781.3 56.0,780.9 70.0,780.2 84.0,779.1 98.0,775.3 107.7,773.9 111.9,774.6 121.7,779.5 132.9,784.4 146.9,787.9 160.8,790.7 174.8,791.7 188.8,790.0 197.0,788.6 204.9,788.7 214.5,793.1 225.0,796.1 237.2,796.6 250.3,796.1 259.9,792.6 270.4,790.3 280.9,788.7 294.9,784.7 303.6,781.6 312.4,778.6 321.1,777.4 333.4,777.4 343.8,776.9 352.6,778.6 361.3,782.6 370.1,787.3 377.1,794.3 384.1,798.7 392.8,802.2 399.8,805.7 406.8,808.3 413.8,808.9 424.3,807.1 430.0,804.0 437.0,799.6 444.0,796.6 452.7,793.8 461.5,792.2 473.7,791.7 482.4,788.2 491.2,784.4 499.1,781.2 506.9,780.9 515.7,780.0 524.4,779.0 533.1,775.6 540.1,774.2 546.3,769.3 554.1,766.9 564.6,766.9 573.4,769.0 583.8,768.5 594.3,769.9 604.8,772.5 615.3,773.9 625.8,774.8 636.3,776.3 646.8,778.1 657.3,780.0 667.8,780.9 675.0,780.7 680.5,779.5 692.7,778.6 705.0,778.6 713.7,780.0 720.7,783.3 729.4,785.9 739.9,787.9 748.7,789.4 760.9,790.0 771.4,789.1 781.9,787.0 792.4,785.6 809.9,785.3 820.3,783.3 829.1,782.5 837.8,782.1 846.6,783.3 858.8,784.2 871.0,782.6 883.3,781.2 893.8,779.9 901.2,779.6 912.4,779.0 923.6,778.8 934.7,778.1 943.7,776.8 950.4,775.1 957.1,773.6 963.8,772.6 970.5,772.3 975.2,772.3" fill="none" stroke="#5b19fb" stroke-width="1.15" stroke-linejoin="round"/>
<line x1="412.3" y1="808.9" x2="1031.6" y2="775.9" stroke="#000" stroke-width="2.05" stroke-linecap="butt"/>
<g class="ax"><text x="1375.5" y="736.1">0.1000</text><text x="1375.5" y="779.1">0.0000</text></g>
<g font-size="13">
<text x="6.3" y="742.3" fill="#131722" textLength="36.8" lengthAdjust="spacingAndGlyphs">MACD</text>
<text x="47.2" y="742.3" fill="#6a6d78" textLength="137.6" lengthAdjust="spacingAndGlyphs">12 26 close 9 EMA EMA</text>
<text x="193.4" y="742.3" fill="#b2dfdb" textLength="38.7" lengthAdjust="spacingAndGlyphs">0.0050</text>
<text x="239.2" y="742.3" fill="#5a28fa" textLength="38.5" lengthAdjust="spacingAndGlyphs">0.0051</text>
<text x="285.7" y="742.3" fill="#f7891d" textLength="37.6" lengthAdjust="spacingAndGlyphs">0.0001</text>
</g>
<g>
<path d="M1028.5 779.5H1134.5a6 6 0 0 1 6 6V806.5a6 6 0 0 1-6 6H1028.5a6 6 0 0 1-6-6V803.8L1005.5 788L1022.5 787.6V785.5a6 6 0 0 1 6-6z" fill="#fff" stroke="#4a4a4a" stroke-width="1"/>
<text x="1082" y="800" font-size="12" fill="#131722" text-anchor="middle" textLength="97.4" lengthAdjust="spacingAndGlyphs">Bullish Divergence</text>
</g>
<g fill="#131722" stroke="#fff" stroke-width="3" stroke-linejoin="round" paint-order="stroke">
<path d="M9.06 788.3H20.55V802.75H14.9V793.9H9.06Z"/><circle cx="26" cy="790.5" r="2.8"/><path d="M30.6 788.3H38.6L32.7 802.75H26.4Z"/>
<text x="46" y="802.75" font-size="21" font-weight="bold" fill="#131722" textLength="120.2" lengthAdjust="spacingAndGlyphs">TradingView</text>
</g>
<g class="tm">
<text transform="translate(22.2,836.2) scale(0.94,1)">Apr</text>
<text transform="translate(174.2,836.2) scale(0.94,1)">May</text>
<text transform="translate(331.4,836.2) scale(0.94,1)">Jun</text>
<text transform="translate(484,836.2) scale(0.94,1)">Jul</text>
<text transform="translate(640.5,836.2) scale(0.94,1)">Aug</text>
<text transform="translate(797.5,836.2) scale(0.94,1)">Sep</text>
<text transform="translate(950,836.2) scale(0.94,1)">Oct</text>
<text transform="translate(1107.2,836.2) scale(0.94,1)">Nov</text>
<text transform="translate(1259.4,836.2) scale(0.94,1)">Dec</text>
</g>
<g fill="none" stroke="#131722" stroke-width="1.1"><path d="M1393 832l3.5-6.2h7l3.5 6.2-3.5 6.2h-7z" stroke-linejoin="round"/><circle cx="1400" cy="832" r="1.9"/></g>
<g>
<circle cx="17.85" cy="11.03" r="6.05" fill="#381ec6"/>
<circle cx="17.85" cy="7.38" r="0.7" fill="#fbe23a"/>
<circle cx="20.43" cy="8.45" r="0.7" fill="#fbe23a"/>
<circle cx="21.50" cy="11.03" r="0.7" fill="#fbe23a"/>
<circle cx="20.43" cy="13.61" r="0.7" fill="#fbe23a"/>
<circle cx="17.85" cy="14.68" r="0.7" fill="#fbe23a"/>
<circle cx="15.27" cy="13.61" r="0.7" fill="#fbe23a"/>
<circle cx="14.20" cy="11.03" r="0.7" fill="#fbe23a"/>
<circle cx="15.27" cy="8.45" r="0.7" fill="#fbe23a"/>
<circle cx="12.03" cy="16.96" r="8.1" fill="#fff"/>
<circle cx="12.03" cy="16.96" r="6.05" fill="#8f00ea"/>
<g fill="none" stroke="#fff" stroke-width="0.8" stroke-opacity="0.92"><rect x="8.4" y="14.46" width="3.1" height="3.1" rx="1.2"/><rect x="12.4" y="16.6" width="3.2" height="3.1" rx="1.2"/></g>
<text x="28.1" y="19.9" font-size="16" fill="#131722" textLength="136.5" lengthAdjust="spacingAndGlyphs">Polygon / Euro · 1D</text><text x="167.4" y="17.6" font-size="12" fill="#9598a1">·</text>
</g>
<g>
<rect x="1371.5" y="2.5" width="55" height="25" rx="4" fill="#fff" stroke="#e0e3eb"/>
<text x="1375.1" y="18.8" font-size="12" fill="#131722" textLength="21.7" lengthAdjust="spacingAndGlyphs">EUR</text>
<path d="M1416.6 14.3l2.4 2.4 2.4-2.4" fill="none" stroke="#131722" stroke-width="1.3"/>
</g>
</svg></body></html>
